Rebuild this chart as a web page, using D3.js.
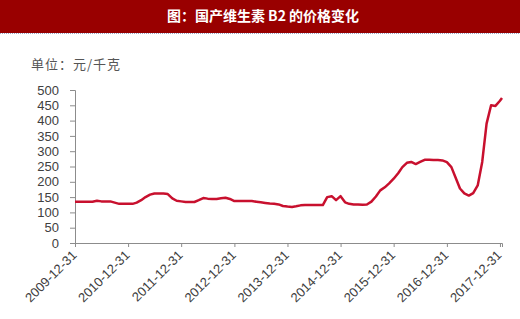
<!DOCTYPE html>
<html lang="zh">
<head>
<meta charset="UTF-8">
<title>国产维生素B2的价格变化</title>
<style>
  body { margin: 0; background: #fff; }
  svg { display: block; }
</style>
</head>
<body>
<svg id="chart" width="520" height="319"></svg>
<script src="https://d3js.org/d3.v7.min.js"></script>
<script>
// month-end prices, yuan/kg, starting 2009-12
var startMonth = "2009-12"
var prices = [
  135, 135, 135, 135, 135, 138, 136, 136, 136, 132, 128, 128,
  128, 128, 132, 140, 150, 158, 162, 162, 162, 160, 146, 138,
  136, 134, 134, 134, 140, 147, 145, 144, 144, 146, 148, 144,
  137, 137, 137, 137, 137, 135, 133, 131, 129, 128, 126, 121,
  119, 118, 120, 123, 124, 124, 124, 124, 124, 150, 153, 140,
  153, 133, 128, 126, 126, 125, 126, 135, 152, 172, 182, 195,
  210, 228, 248, 262, 265, 258, 265, 272, 272, 271, 271, 270,
  264, 248, 215, 178, 162, 155, 163, 188, 265, 390, 450, 448,
  465, 474
]
var xTicks = ["2009-12-31", "2010-12-31", "2011-12-31", "2012-12-31", "2013-12-31",
  "2014-12-31", "2015-12-31", "2016-12-31", "2017-12-31"]
var yTicks = [0, 50, 100, 150, 200, 250, 300, 350, 400, 450, 500]

var svg = d3.select("#chart")
var parse = d3.timeParse("%Y-%m-%d")

// title bar
svg.append("rect").attr("x", 0).attr("y", 0).attr("width", 520).attr("height", 33).attr("fill", "#990000")
svg.append("line").attr("x1", 0).attr("x2", 520).attr("y1", 33.5).attr("y2", 33.5)
  .attr("stroke", "#9aa6c8").attr("stroke-dasharray", "1,1")
svg.append("text").attr("x", 263).attr("y", 21).attr("text-anchor", "middle")
  .attr("fill", "#fff").style("font-family", "'Noto Sans CJK SC'").style("font-weight", "bold")
  .style("font-size", "14px").text("图：国产维生素 B2 的价格变化")
svg.append("text").attr("x", 31).attr("y", 69)
  .attr("fill", "#555").style("font-family", "'Noto Sans CJK SC'")
  .style("font-size", "13px").style("letter-spacing", "1px").text("单位：元/千克")

var data = prices.map(function (v, i) {
  var d = d3.timeMonth.offset(d3.timeParse("%Y-%m")(startMonth), i + 1)
  return { date: d3.timeDay.offset(d, -1), value: v }
})
// last point is mid-January 2018
data[data.length - 1].date = parse("2018-01-14")

var x = d3.scaleTime()
  .domain([parse("2009-12-31"), parse("2018-01-14")])
  .range([75, 502])
var y = d3.scaleLinear().domain([0, 500]).range([243, 90])

var gy = svg.append("g").attr("transform", "translate(75,0)")
  .call(d3.axisLeft(y).tickValues(yTicks).tickSize(5).tickPadding(11))
gy.selectAll("text").style("font-family", "'Liberation Sans', Arial").style("font-size", "13px").attr("fill", "#404040")

var gx = svg.append("g").attr("transform", "translate(0,243)")
  .call(d3.axisBottom(x).tickValues(xTicks.map(parse)).tickSize(4).tickFormat(d3.timeFormat("%Y-%m-%d")))
gx.selectAll("text")
  .style("font-family", "'Liberation Sans', Arial").style("font-size", "13px").attr("fill", "#404040")
  .attr("text-anchor", "end").attr("dy", null).attr("y", 0)
  .attr("transform", "translate(2,13) rotate(-45)")

svg.selectAll(".domain, .tick line").attr("stroke", "#8c8c8c")

svg.append("path").datum(data)
  .attr("fill", "none").attr("stroke", "#c8102e").attr("stroke-width", 2.5)
  .attr("stroke-linejoin", "round")
  .attr("d", d3.line()
    .x(function (d) { return x(d.date) })
    .y(function (d) { return y(d.value) }))
</script>
</body>
</html>
